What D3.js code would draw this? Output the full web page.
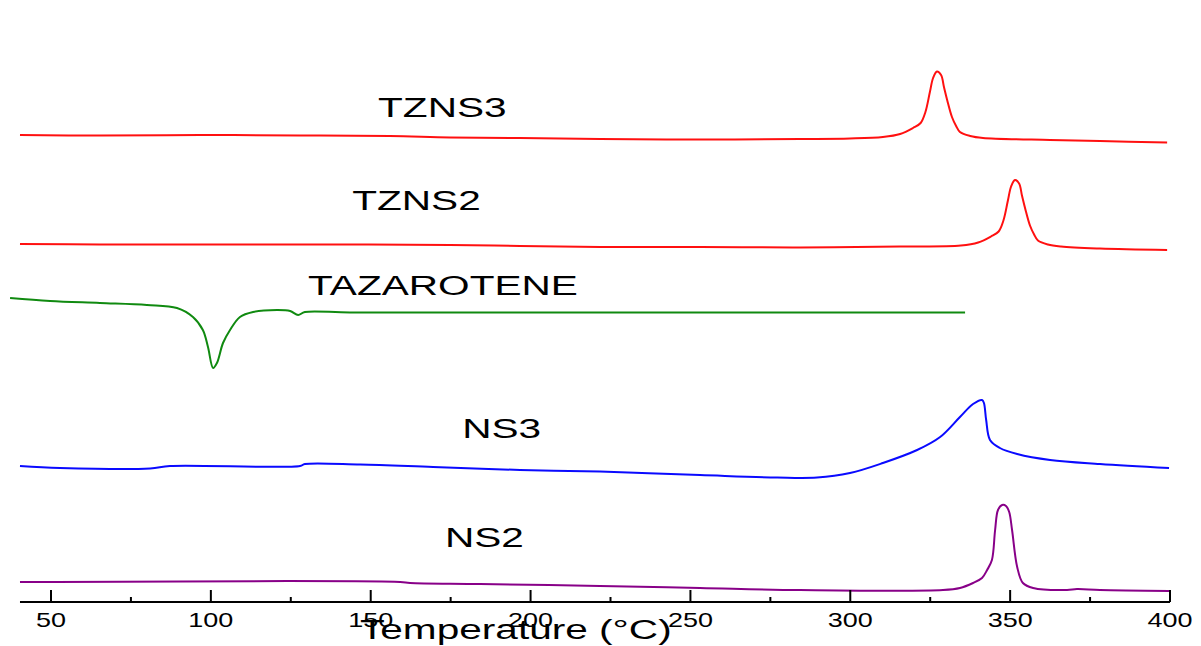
<!DOCTYPE html>
<html>
<head>
<meta charset="utf-8">
<script src="https://cdn.jsdelivr.net/npm/d3@7"></script>
<style>
html,body{margin:0;padding:0;background:#fff;}
svg{display:block;}
text{font-family:Arial,"Liberation Sans",Helvetica,sans-serif;fill:#000;}
</style>
</head>
<body>
<svg id="chart" width="1201" height="646"></svg>
<script>
// ---- Data (temperature °C, heat flow in arbitrary offset units) ----
const tzns3T = [40.3,65.3,96.6,127.9,156.0,174.8,196.7,221.7,253.0,284.3,299.9,310.2,315.6,319.6,322.0,323.5,324.9,325.9,327.1,328.4,329.3,330.3,331.8,333.1,334.3,337.5,341.5,362.5,378.1,399.1];
const tzns3V = [467,466.5,467,466.5,466,464.5,464,463,462.5,463,463.5,465,468,474,479,490,510,524,530.5,527,515,502,485,476,470,466,464,462,461,459.5];

const tzns2T = [40.3,65.3,96.6,127.9,174.8,196.7,221.7,253.0,284.3,315.6,334.6,340.0,344.0,346.4,347.9,349.3,350.3,351.5,352.8,353.7,354.7,356.2,357.5,358.7,361.8,365.9,378.1,399.1];
const tzns2V = [358,357.5,357.5,357.5,357,356,355,355,354.5,355.5,356.5,359.5,365.5,370.5,381.5,401.5,415.5,422,418.5,406.5,393.5,376.5,367.5,361.5,357.5,355.5,353.5,352];

const tazT = [37.2,49.7,65.3,80.0,89.4,94.4,97.5,99.1,100.7,101.9,103.8,106.0,109.1,113.2,120.7,124.8,127.3,129.4,143.5,190.4,253.0,335.9];
const tazV = [304,301,299,297,294,285,272,255,234,239,259,272,285,290,292,291,287,290,289.5,289.5,289.5,289.5];

const ns3T = [40.3,52.8,81.0,87.2,127.9,129.4,146.7,169.5,196.7,221.7,253.0,277.1,289.6,299.9,310.2,320.9,328.1,334.3,338.4,341.2,341.8,342.5,343.7,346.8,352.2,362.5,378.1,399.7];
const ns3V = [136,134,133.5,136,136,138,137.5,135,132,130.5,127,124.5,124.5,129,139,152,165,185,198,202,199,182,162,154,148,142,138,134];

const ns2T = [40.3,159.2,162.3,184.2,221.7,253.0,284.3,329.0,334.3,338.4,341.2,342.8,344.3,345.3,346.2,347.5,348.7,349.7,350.6,352.2,354.0,357.2,367.8,370.9,378.1,399.7];
const ns2V = [20,20,19,18,16,14,12,12,14,19,24,32,42,72,92,97,96,90,72,35,19,14,12,13,12,11];

const seriesNames = ["TZNS3","TZNS2","TAZAROTENE","NS3","NS2"];
const seriesColors = ["#ff1010","#ff1010","#108a10","#0a0aff","#880088"];
// label anchor (temperature, value) for each series name
const labelT = [152.3,144.2,130.4,178.6,173.2];
const labelV = [485,392,307,164,55];

const majorTicks = [50,100,150,200,250,300,350,400];
const minorTicks = [75,125,175,225,275,325,375];
const xTitle = "Temperature (°C)";

// ---- Scales ----
const svg = d3.select("#chart");
const x = d3.scaleLinear().domain([50,400]).range([51,1170]);
const y = d3.scaleLinear().domain([0,600]).range([602,2]);
const axisY = y(0);
const xStart = x(40.3);

const seriesT = [tzns3T,tzns2T,tazT,ns3T,ns2T];
const seriesV = [tzns3V,tzns2V,tazV,ns3V,ns2V];

const line = d3.line().x(d=>x(d[0])).y(d=>y(d[1])).curve(d3.curveCatmullRom.alpha(0.5));

seriesNames.forEach((name,i)=>{
  const pts = seriesT[i].map((t,j)=>[t,seriesV[i][j]]);
  svg.append("path").datum(pts)
    .attr("d",line)
    .attr("fill","none")
    .attr("stroke",seriesColors[i])
    .attr("stroke-width",2)
    .attr("stroke-linejoin","round");
  svg.append("text")
    .attr("transform",`translate(${x(labelT[i])},${y(labelV[i])}) scale(1.45,1)`)
    .attr("font-size",28)
    .text(name);
});

// ---- Axis ----
const ax = svg.append("g");
ax.append("line").attr("x1",xStart).attr("x2",x(400)).attr("y1",axisY).attr("y2",axisY)
  .attr("stroke","#000").attr("stroke-width",2);
ax.selectAll(".maj").data(majorTicks).enter().append("line")
  .attr("x1",d=>x(d)).attr("x2",d=>x(d)).attr("y1",axisY).attr("y2",axisY-12)
  .attr("stroke","#000").attr("stroke-width",2);
ax.selectAll(".min").data(minorTicks).enter().append("line")
  .attr("x1",d=>x(d)).attr("x2",d=>x(d)).attr("y1",axisY).attr("y2",axisY-5)
  .attr("stroke","#000").attr("stroke-width",2);
ax.selectAll(".lab").data(majorTicks).enter().append("text")
  .attr("transform",d=>`translate(${x(d)},${axisY+25}) scale(1.35,1)`)
  .attr("text-anchor","middle")
  .attr("font-size",20)
  .text(d=>d);
svg.append("text")
  .attr("transform",`translate(360,${axisY+37}) scale(1.45,1)`)
  .attr("font-size",28)
  .text(xTitle);
</script>
</body>
</html>
